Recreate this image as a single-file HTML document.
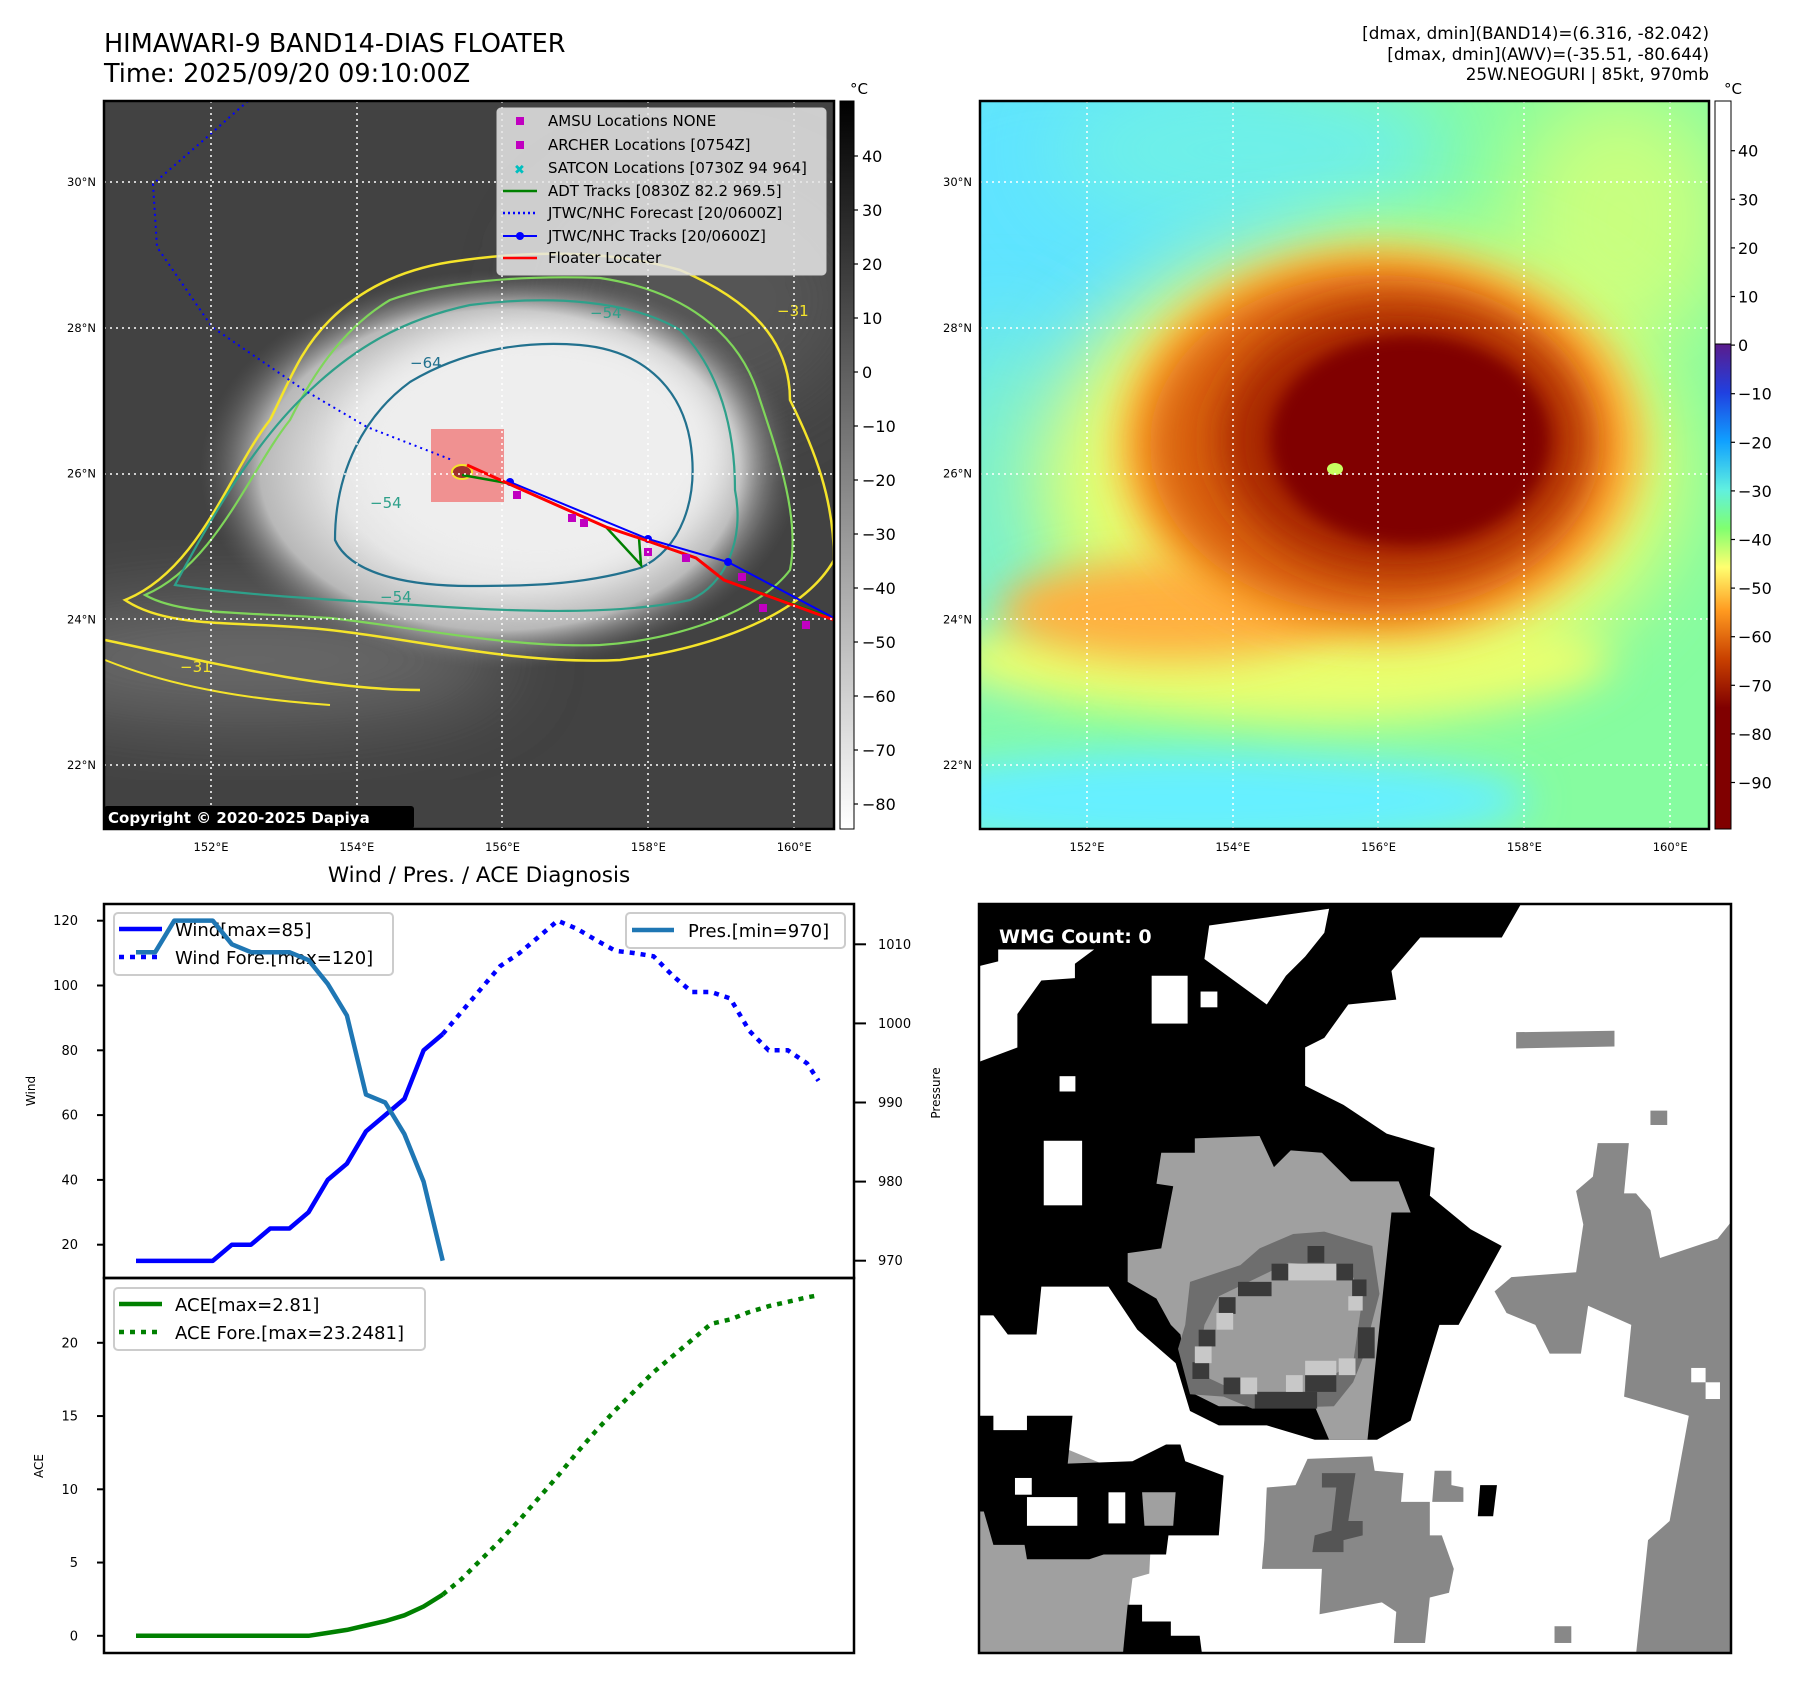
<!DOCTYPE html>
<html><head><meta charset="utf-8"><style>
html,body{margin:0;padding:0;background:#fff;}
svg{display:block;font-family:"DejaVu Sans","Liberation Sans",sans-serif;}
</style></head><body>
<svg id="fig" xmlns="http://www.w3.org/2000/svg" width="1797" height="1690" viewBox="0 0 1797 1690">
<defs>
  <clipPath id="c1"><rect x="104" y="101" width="730" height="728"/></clipPath>
  <clipPath id="c2"><rect x="980" y="101" width="729" height="728"/></clipPath>
  <clipPath id="c3"><rect x="979" y="904" width="752" height="749"/></clipPath>
  <filter id="b8" x="-50%" y="-50%" width="200%" height="200%"><feGaussianBlur stdDeviation="8"/></filter>
  <filter id="b20" x="-50%" y="-50%" width="200%" height="200%"><feGaussianBlur stdDeviation="20"/></filter>
  <filter id="b40" x="-50%" y="-50%" width="200%" height="200%"><feGaussianBlur stdDeviation="40"/></filter>
  <radialGradient id="cloud" cx="0.5" cy="0.5" r="0.5">
    <stop offset="0" stop-color="#f2f2f2"/><stop offset="0.55" stop-color="#e4e4e4"/>
    <stop offset="0.8" stop-color="#b8b8b8"/><stop offset="1" stop-color="#606060" stop-opacity="0"/>
  </radialGradient>
  <linearGradient id="cb1" x1="0" y1="0" x2="0" y2="1">
    <stop offset="0" stop-color="#000"/><stop offset="1" stop-color="#fff"/>
  </linearGradient>
  <linearGradient id="cb2" x1="0" y1="0" x2="0" y2="1">
    <stop offset="0" stop-color="#5a1c8c"/><stop offset="0.1" stop-color="#2040e0"/>
    <stop offset="0.2" stop-color="#10a0ff"/><stop offset="0.3" stop-color="#60f0e0"/>
    <stop offset="0.38" stop-color="#80ff70"/><stop offset="0.46" stop-color="#ffff70"/>
    <stop offset="0.55" stop-color="#ff9a20"/><stop offset="0.65" stop-color="#c84000"/>
    <stop offset="0.75" stop-color="#800000"/><stop offset="1" stop-color="#800000"/>
  </linearGradient>
</defs>

<!-- Titles -->
<text x="104" y="52" font-size="25.5">HIMAWARI-9 BAND14-DIAS FLOATER</text>
<text x="104" y="82" font-size="25.5">Time: 2025/09/20 09:10:00Z</text>
<g font-size="16.8" text-anchor="end">
  <text x="1709" y="39">[dmax, dmin](BAND14)=(6.316, -82.042)</text>
  <text x="1709" y="60">[dmax, dmin](AWV)=(-35.51, -80.644)</text>
  <text x="1709" y="80">25W.NEOGURI | 85kt, 970mb</text>
</g>

<!-- Map 1 -->
<g clip-path="url(#c1)">
  <rect x="104" y="101" width="730" height="728" fill="#424242"/>
  <ellipse cx="250" cy="660" rx="260" ry="60" fill="#6a6a6a" filter="url(#b40)"/>
  <ellipse cx="700" cy="300" rx="160" ry="120" fill="#555" filter="url(#b40)"/>
  <ellipse cx="500" cy="470" rx="300" ry="200" fill="url(#cloud)"/>
  <ellipse cx="540" cy="450" rx="190" ry="130" fill="#eeeeee" filter="url(#b20)"/>
  <path d="M125,600 C200,570 230,470 270,420 C290,380 300,350 330,320 C360,290 400,270 450,262 C530,250 610,250 680,270 C750,300 790,340 790,400 C815,450 834,500 834,560 C800,620 700,650 620,660 C520,665 420,640 330,630 C240,620 170,630 125,600 Z" fill="none" stroke="#f5e42a" stroke-width="2.5"/>
  <path d="M145,595 C215,565 250,470 290,420 C310,380 340,330 390,300 C440,282 520,275 600,278 C680,290 740,330 760,400 C780,460 800,520 790,570 C760,610 680,640 600,645 C510,648 420,628 330,618 C240,612 180,615 145,595 Z" fill="none" stroke="#7fd65a" stroke-width="2.2"/>
  <path d="M175,585 C210,520 250,450 300,400 C350,350 400,320 470,305 C550,295 630,300 680,330 C720,370 735,430 735,490 C745,540 725,585 690,600 C620,615 520,612 430,606 C340,600 250,596 175,585 Z" fill="none" stroke="#2ea08a" stroke-width="2.2"/>
  <path d="M335,540 C335,470 365,415 410,382 C460,352 520,340 580,345 C640,350 680,385 690,440 C700,500 680,550 640,568 C580,586 520,586 470,586 C420,586 352,578 335,540 Z" fill="none" stroke="#22718e" stroke-width="2.2"/>
  <path d="M105,640 C200,660 320,690 420,690" fill="none" stroke="#f5e42a" stroke-width="2.5"/>
  <path d="M105,660 C180,690 260,700 330,705" fill="none" stroke="#f5e42a" stroke-width="2"/>
  <g font-size="15" fill="#2ea08a">
    <text x="590" y="318">−54</text><text x="410" y="368" fill="#22718e">−64</text>
    <text x="370" y="508">−54</text><text x="777" y="316" fill="#f5e42a">−31</text>
    <text x="380" y="602">−54</text><text x="180" y="672" fill="#f5e42a">−31</text>
  </g>
  <rect x="431" y="429" width="73" height="73" fill="#f08080" opacity="0.85"/>
  <ellipse cx="462" cy="472" rx="10" ry="7" fill="#a03030" stroke="#f5e42a" stroke-width="2"/>
  <polyline points="248,101 206,138 153,184 157,247 212,327 304,390 367,427 452,460" fill="none" stroke="#0000ff" stroke-width="2" stroke-dasharray="2,4"/>
  <polyline points="462,475 507,483 606,527 641,565 639,538 696,558 724,580 830,617" fill="none" stroke="#008000" stroke-width="2.5"/>
  <polyline points="510,482 648,539 728,562 834,618" fill="none" stroke="#0000ff" stroke-width="2"/>
  <g fill="#0000ff"><circle cx="510" cy="482" r="4"/><circle cx="648" cy="539" r="4"/><circle cx="728" cy="562" r="4"/></g>
  <polyline points="467,465 507,483 606,527 639,538 696,558 724,580 834,620" fill="none" stroke="#ff0000" stroke-width="3"/>
  <g fill="#c000c0">
    <rect x="513" y="491" width="8" height="8"/><rect x="568" y="514" width="8" height="8"/><rect x="580" y="519" width="8" height="8"/>
    <rect x="644" y="548" width="8" height="8"/><rect x="682" y="554" width="8" height="8"/><rect x="738" y="573" width="8" height="8"/>
    <rect x="759" y="604" width="8" height="8"/><rect x="802" y="621" width="8" height="8"/>
  </g>
  <g stroke="#fff" stroke-width="1.5" stroke-dasharray="2,4">
    <line x1="211" y1="101" x2="211" y2="829"/><line x1="357" y1="101" x2="357" y2="829"/><line x1="502" y1="101" x2="502" y2="829"/><line x1="648" y1="101" x2="648" y2="829"/><line x1="794" y1="101" x2="794" y2="829"/>
    <line x1="104" y1="182" x2="834" y2="182"/><line x1="104" y1="328" x2="834" y2="328"/><line x1="104" y1="474" x2="834" y2="474"/><line x1="104" y1="619" x2="834" y2="619"/><line x1="104" y1="765" x2="834" y2="765"/>
  </g>
  <rect x="104" y="806" width="310" height="23" rx="3" fill="#000"/>
  <text x="108" y="823" font-size="15" font-weight="bold" fill="#fff">Copyright © 2020-2025 Dapiya</text>
  <g>
    <rect x="497" y="108" width="329" height="167" rx="4" fill="#e6e6e6" fill-opacity="0.85" stroke="#ccc"/>
    <g font-size="15">
      <rect x="516" y="117" width="8" height="8" fill="#c000c0"/><text x="548" y="126">AMSU Locations NONE</text>
      <rect x="516" y="141" width="8" height="8" fill="#c000c0"/><text x="548" y="150">ARCHER Locations [0754Z]</text>
      <text x="514" y="174" fill="#00bfbf" font-weight="bold" font-size="13">✖</text><text x="548" y="173">SATCON Locations [0730Z 94 964]</text>
      <line x1="503" y1="191" x2="537" y2="191" stroke="#008000" stroke-width="2.5"/><text x="548" y="196">ADT Tracks [0830Z 82.2 969.5]</text>
      <line x1="503" y1="213" x2="537" y2="213" stroke="#0000ff" stroke-width="2.5" stroke-dasharray="2,3"/><text x="548" y="218">JTWC/NHC Forecast [20/0600Z]</text>
      <line x1="503" y1="236" x2="537" y2="236" stroke="#0000ff" stroke-width="2"/><circle cx="520" cy="236" r="4" fill="#0000ff"/><text x="548" y="241">JTWC/NHC Tracks [20/0600Z]</text>
      <line x1="503" y1="258" x2="537" y2="258" stroke="#ff0000" stroke-width="2.5"/><text x="548" y="263">Floater Locater</text>
    </g>
  </g>
</g>
<rect x="104" y="101" width="730" height="728" fill="none" stroke="#000" stroke-width="2.5"/>

<!-- Colorbar 1 -->
<rect x="840" y="101" width="14" height="728" fill="url(#cb1)" stroke="#000" stroke-width="1"/>
<text x="850" y="94" font-size="15">°C</text>
<g id="cb1ticks" font-size="16"></g>

<!-- Map 2 -->
<g clip-path="url(#c2)">
  <rect x="980" y="101" width="729" height="728" fill="#86fca0"/>
  <ellipse cx="1060" cy="250" rx="260" ry="220" fill="#5ee4ff" filter="url(#b40)"/>
  <ellipse cx="1250" cy="150" rx="200" ry="80" fill="#6ef0e8" filter="url(#b40)"/>
  <ellipse cx="1000" cy="520" rx="60" ry="200" fill="#7af0d0" filter="url(#b40)"/>
  <ellipse cx="1200" cy="800" rx="330" ry="50" fill="#66f0ff" filter="url(#b20)"/>
  <ellipse cx="1620" cy="220" rx="110" ry="130" fill="#c8ff80" filter="url(#b40)"/>
  <ellipse cx="1280" cy="660" rx="330" ry="55" fill="#e8ff70" filter="url(#b20)"/>
  <ellipse cx="1360" cy="470" rx="320" ry="230" fill="#e8ff70" filter="url(#b40)"/>
  <ellipse cx="1170" cy="610" rx="170" ry="50" fill="#ffb040" filter="url(#b20)"/>
  <ellipse cx="1380" cy="445" rx="260" ry="195" fill="#ffa830" filter="url(#b20)"/>
  <ellipse cx="1375" cy="445" rx="225" ry="170" fill="#d86010" filter="url(#b20)"/>
  <ellipse cx="1400" cy="440" rx="180" ry="135" fill="#a82800" filter="url(#b20)"/>
  <ellipse cx="1410" cy="440" rx="140" ry="105" fill="#800000" filter="url(#b8)"/>
  <ellipse cx="1335" cy="469" rx="8" ry="6" fill="#c8ff60"/>
  <g stroke="#fff" stroke-width="1.5" stroke-dasharray="2,4">
    <line x1="1087" y1="101" x2="1087" y2="829"/><line x1="1233" y1="101" x2="1233" y2="829"/><line x1="1378" y1="101" x2="1378" y2="829"/><line x1="1524" y1="101" x2="1524" y2="829"/><line x1="1670" y1="101" x2="1670" y2="829"/>
    <line x1="980" y1="182" x2="1709" y2="182"/><line x1="980" y1="328" x2="1709" y2="328"/><line x1="980" y1="474" x2="1709" y2="474"/><line x1="980" y1="619" x2="1709" y2="619"/><line x1="980" y1="765" x2="1709" y2="765"/>
  </g>
</g>
<rect x="980" y="101" width="729" height="728" fill="none" stroke="#000" stroke-width="2.5"/>
<rect x="1715" y="101" width="16" height="243" fill="#fff" stroke="#000" stroke-width="1"/>
<rect x="1715" y="344" width="16" height="485" fill="url(#cb2)" stroke="#000" stroke-width="1"/>
<text x="1724" y="94" font-size="15">°C</text>
<g id="cb2ticks" font-size="16"></g>

<!-- Map axis labels -->
<g id="maplabels" font-size="11.5"></g>

<!-- WMG panel -->
<g clip-path="url(#c3)">
  <rect x="979" y="904" width="752" height="749" fill="#fff"/>
  <g transform="translate(979,904) scale(0.4796,0.4783)">
    <polygon fill="#000" points="0,0 1130,0 1090,70 920,70 860,140 870,200 770,210 720,280 680,300 680,380 760,420 850,480 950,510 940,610 1025,680 1090,715 1000,880 960,880 900,1080 830,1120 700,1120 600,1090 500,1090 440,1060 410,960 330,890 270,800 130,800 120,900 60,900 30,860 0,860"/>
    <polygon fill="#fff" points="40,95 240,95 200,125 200,155 130,160 80,230 80,300 0,330 0,130 40,120"/>
    <polygon fill="#fff" points="480,45 730,10 720,60 680,110 640,150 600,210 470,115"/>
    <rect x="360" y="150" width="75" height="100" fill="#fff"/><rect x="462" y="183" width="35" height="33" fill="#fff"/>
    <rect x="168" y="360" width="33" height="32" fill="#fff"/><rect x="135" y="495" width="80" height="135" fill="#fff"/>
    <polygon fill="#a0a0a0" points="450,490 585,485 615,550 650,515 715,520 775,580 875,580 900,645 860,645 810,1120 730,1120 700,1050 500,1050 440,1020 420,900 400,880 370,825 310,790 310,730 380,720 405,590 370,585 380,520 450,520"/>
    <polygon fill="#6e6e6e" points="440,790 545,755 585,720 655,690 720,685 820,715 835,815 800,950 780,1000 740,1050 570,1055 510,1030 440,1025 415,930 430,880"/>
    <polygon fill="#9c9c9c" points="500,820 645,750 770,760 800,820 780,960 680,1020 540,1020 455,980 470,880"/>
    <g fill="#3a3a3a"><rect x="610" y="752" width="35" height="35"/><rect x="540" y="790" width="70" height="30"/><rect x="500" y="822" width="35" height="35"/><rect x="745" y="752" width="35" height="35"/><rect x="778" y="785" width="30" height="35"/><rect x="458" y="890" width="35" height="35"/><rect x="790" y="885" width="35" height="65"/><rect x="445" y="958" width="35" height="35"/><rect x="510" y="990" width="35" height="35"/><rect x="575" y="1020" width="130" height="35"/><rect x="680" y="985" width="65" height="35"/><rect x="685" y="715" width="35" height="35"/></g>
    <g fill="#c8c8c8"><rect x="645" y="752" width="100" height="35"/><rect x="495" y="855" width="35" height="35"/><rect x="450" y="925" width="35" height="35"/><rect x="545" y="990" width="35" height="35"/><rect x="750" y="950" width="35" height="35"/><rect x="640" y="985" width="35" height="35"/><rect x="680" y="955" width="65" height="30"/><rect x="770" y="820" width="30" height="30"/></g>
    <polygon fill="#888" points="1290,500 1355,500 1345,605 1370,605 1400,640 1420,740 1540,700 1568,665 1568,1568 1370,1568 1395,1330 1440,1290 1480,1070 1345,1030 1360,880 1270,840 1255,940 1190,940 1160,880 1100,855 1075,810 1110,780 1245,770 1260,670 1245,600 1280,570"/>
    <rect x="1485" y="970" width="30" height="30" fill="#fff"/><rect x="1515" y="1000" width="30" height="35" fill="#fff"/>
    <polygon fill="#888" points="1120,268 1325,265 1325,298 1120,302"/>
    <rect x="1400" y="432" width="35" height="30" fill="#888"/>
    <polygon fill="#888" points="685,1160 820,1155 825,1185 885,1190 880,1250 940,1250 940,1320 965,1320 990,1390 980,1440 940,1450 930,1545 865,1545 870,1480 840,1460 710,1485 715,1390 590,1390 595,1330 600,1220 660,1215"/>
    <polygon fill="#555" points="715,1190 785,1190 770,1290 800,1290 800,1320 760,1330 760,1355 695,1355 700,1320 735,1310 745,1220 715,1220"/>
    <polygon fill="#888" points="950,1185 985,1185 985,1215 1010,1220 1010,1250 945,1250"/>
    <rect x="1200" y="1510" width="35" height="35" fill="#888"/>
    <polygon fill="#000" points="1045,1215 1080,1215 1072,1280 1040,1280"/>
    <polygon fill="#a0a0a0" points="0,1170 130,1135 160,1100 160,1130 400,1230 410,1290 360,1300 355,1400 320,1410 300,1568 0,1568"/>
    <polygon fill="#000" points="0,1070 30,1070 30,1100 100,1100 100,1070 195,1070 185,1170 320,1165 390,1130 420,1130 430,1165 510,1195 500,1320 395,1320 390,1360 260,1360 230,1370 100,1370 95,1340 30,1340 10,1270 0,1270"/>
    <rect x="100" y="1240" width="105" height="60" fill="#fff"/><rect x="270" y="1230" width="35" height="65" fill="#fff"/><rect x="75" y="1200" width="35" height="35" fill="#fff"/>
    <polygon fill="#a0a0a0" points="340,1230 410,1230 405,1300 345,1300"/>
    <polygon fill="#000" points="310,1465 340,1465 340,1500 400,1500 400,1530 460,1530 465,1568 300,1568"/>
    <rect x="20" y="25" width="380" height="68" rx="8" fill="#000"/>
  </g>
  <text x="999" y="943" font-size="19" font-weight="bold" fill="#fff">WMG Count: 0</text>
</g>
<rect x="979" y="904" width="752" height="749" fill="none" stroke="#000" stroke-width="2.5"/>

<!-- Diagnosis charts -->
<text x="479" y="882" font-size="21.5" text-anchor="middle">Wind / Pres. / ACE Diagnosis</text>
<g id="charts"></g>
</svg>

<script>
// ---- chart data ----
var obsIndex = [0,1,2,3,4,5,6,7,8,9,10,11,12,13,14,15,16];
var windObs = [15,15,15,15,15,20,20,25,25,30,40,45,55,60,65,80,85];
var presObs = [1009,1009,1013,1013,1013,1010,1009,1009,1009,1008,1005,1001,991,990,986,980,970];
var aceObs = [0,0,0,0,0,0,0,0,0,0,0.2,0.4,0.7,1.0,1.4,2.0,2.81];
var foreIndex = [16,17,18,19,20,21,22,23,24,25,26,27,28,29,30,31,32,33,34,35,35.6];
var windFore = [85,92,99,106,110,115,120,117.5,114,110.7,110,109,103,98,98,96,86,80,80,76,70.6];
var aceFore = [2.81,3.9,5.2,6.5,7.9,9.4,10.9,12.5,14.0,15.4,16.7,18.0,19.1,20.2,21.3,21.6,22.1,22.5,22.8,23.1,23.25];
var windTicks = [20,40,60,80,100,120];
var presTicks = [970,980,990,1000,1010];
var aceTicks = [0,5,10,15,20];
var irTicks = [40,30,20,10,0,-10,-20,-30,-40,-50,-60,-70,-80];
var awvTicks = [40,30,20,10,0,-10,-20,-30,-40,-50,-60,-70,-80,-90];
var latTicks = [30,28,26,24,22];
var lonTicks = [152,154,156,158,160];

var NS = "http://www.w3.org/2000/svg";
function mk(tag, attrs, parent){ var e=document.createElementNS(NS,tag); for(var k in attrs) e.setAttribute(k, attrs[k]); parent.appendChild(e); return e; }
function xT(i){ return 136 + i*19.17; }
function yW(v){ return 920.7 + (120 - v)*3.24; }
function yP(p){ return 944.3 + (1010 - p)*7.91; }
function yA(a){ return 1635.8 - a*14.65; }
function pts(xs, ys, fy){ var s=[]; for(var i=0;i<xs.length;i++) s.push(xT(xs[i]).toFixed(1)+","+fy(ys[i]).toFixed(1)); return s.join(" "); }

var g = document.getElementById("charts");
var fw = mk("rect",{x:104,y:904,width:750,height:374,fill:"none",stroke:"#000","stroke-width":2.5},g);


var fa = mk("rect",{x:104,y:1278,width:750,height:375,fill:"none",stroke:"#000","stroke-width":2.5},g);



windTicks.forEach(function(v){
  var y=yW(v);
  var t=mk("line",{x1:97,y1:y,x2:104,y2:y,stroke:"#000","stroke-width":2},g);
  
  
  var l=mk("text",{x:78,y:y+4.5,"font-size":13,"text-anchor":"end"},g); l.textContent=v;
  
  
});
presTicks.forEach(function(v){
  var y=yP(v);
  var t=mk("line",{x1:854,y1:y,x2:866,y2:y,stroke:"#000","stroke-width":2},g);
  
  
  var l=mk("text",{x:878,y:y+4.5,"font-size":13},g); l.textContent=v;
  
  
});
aceTicks.forEach(function(v){
  var y=yA(v);
  var t=mk("line",{x1:97,y1:y,x2:104,y2:y,stroke:"#000","stroke-width":2},g);
  
  
  var l=mk("text",{x:78,y:y+4.5,"font-size":13,"text-anchor":"end"},g); l.textContent=v;
  
  
});
var yl1=mk("text",{x:0,y:0,"font-size":12,"text-anchor":"middle",transform:"translate(35,1091) rotate(-90)"},g); yl1.textContent="Wind";


var yl2=mk("text",{x:0,y:0,"font-size":12,"text-anchor":"middle",transform:"translate(43,1466) rotate(-90)"},g); yl2.textContent="ACE";


var yl3=mk("text",{x:0,y:0,"font-size":12,"text-anchor":"middle",transform:"translate(940,1093) rotate(-90)"},g); yl3.textContent="Pressure";



var wl=mk("polyline",{points:pts(obsIndex,windObs,yW),fill:"none",stroke:"#0000ff","stroke-width":4.5,"stroke-linejoin":"round"},g);


var wf=mk("polyline",{points:pts(foreIndex,windFore,yW),fill:"none",stroke:"#0000ff","stroke-width":4.5,"stroke-dasharray":"5,6"},g);



var lg=mk("g",{},g);


mk("rect",{x:114,y:913,width:279,height:62,rx:4,fill:"#fff","fill-opacity":0.8,stroke:"#ccc","stroke-width":2},lg);
mk("line",{x1:119,y1:929,x2:162,y2:929,stroke:"#0000ff","stroke-width":4.5},lg);
mk("line",{x1:119,y1:957,x2:162,y2:957,stroke:"#0000ff","stroke-width":4.5,"stroke-dasharray":"5,6"},lg);
var t1=mk("text",{x:175,y:936,"font-size":18},lg); t1.textContent="Wind[max=85]";
var t2=mk("text",{x:175,y:964,"font-size":18},lg); t2.textContent="Wind Fore.[max=120]";

var pl=mk("polyline",{points:pts(obsIndex,presObs,yP),fill:"none",stroke:"#1f77b4","stroke-width":4.5,"stroke-linejoin":"round"},g);


var pg=mk("g",{},g);


mk("rect",{x:626,y:913,width:219,height:35,rx:4,fill:"#fff","fill-opacity":0.8,stroke:"#ccc","stroke-width":2},pg);
mk("line",{x1:632,y1:930,x2:674,y2:930,stroke:"#1f77b4","stroke-width":4.5},pg);
var t3=mk("text",{x:688,y:937,"font-size":18},pg); t3.textContent="Pres.[min=970]";

var al=mk("polyline",{points:pts(obsIndex,aceObs,yA),fill:"none",stroke:"#008000","stroke-width":4.5,"stroke-linejoin":"round"},g);


var af=mk("polyline",{points:pts(foreIndex,aceFore,yA),fill:"none",stroke:"#008000","stroke-width":4.5,"stroke-dasharray":"5,6"},g);


var ag=mk("g",{},g);


mk("rect",{x:114,y:1288,width:311,height:62,rx:4,fill:"#fff","fill-opacity":0.8,stroke:"#ccc","stroke-width":2},ag);
mk("line",{x1:119,y1:1304,x2:162,y2:1304,stroke:"#008000","stroke-width":4.5},ag);
mk("line",{x1:119,y1:1332,x2:162,y2:1332,stroke:"#008000","stroke-width":4.5,"stroke-dasharray":"5,6"},ag);
var t4=mk("text",{x:175,y:1311,"font-size":18},ag); t4.textContent="ACE[max=2.81]";
var t5=mk("text",{x:175,y:1339,"font-size":18},ag); t5.textContent="ACE Fore.[max=23.2481]";

var c1=document.getElementById("cb1ticks");
irTicks.forEach(function(v){
  var y=156+(40-v)*5.4;
  var t=mk("line",{x1:854,y1:y,x2:858,y2:y,stroke:"#000","stroke-width":1.2},c1);
  
  
  var l=mk("text",{x:862,y:y+6},c1); l.textContent=(v<0?"\u2212"+(-v):v);
  
  
});
var c2=document.getElementById("cb2ticks");
awvTicks.forEach(function(v){
  var y=150.7+(40-v)*4.86;
  var t=mk("line",{x1:1731,y1:y,x2:1735,y2:y,stroke:"#000","stroke-width":1.2},c2);
  
  
  var l=mk("text",{x:1738,y:y+6},c2); l.textContent=(v<0?"\u2212"+(-v):v);
  
  
});
var ml=document.getElementById("maplabels");
[0,876].forEach(function(off){
  latTicks.forEach(function(lat){
    var y=182+(30-lat)*72.9;
    var l=mk("text",{x:96+off,y:y+4,"text-anchor":"end"},ml); l.textContent=lat+"°N";
    
    
  });
  lonTicks.forEach(function(lon){
    var x=211+(lon-152)*72.9+off;
    var l=mk("text",{x:x,y:851,"text-anchor":"middle"},ml); l.textContent=lon+"°E";
    
    
  });
});
</script>
</body></html>
